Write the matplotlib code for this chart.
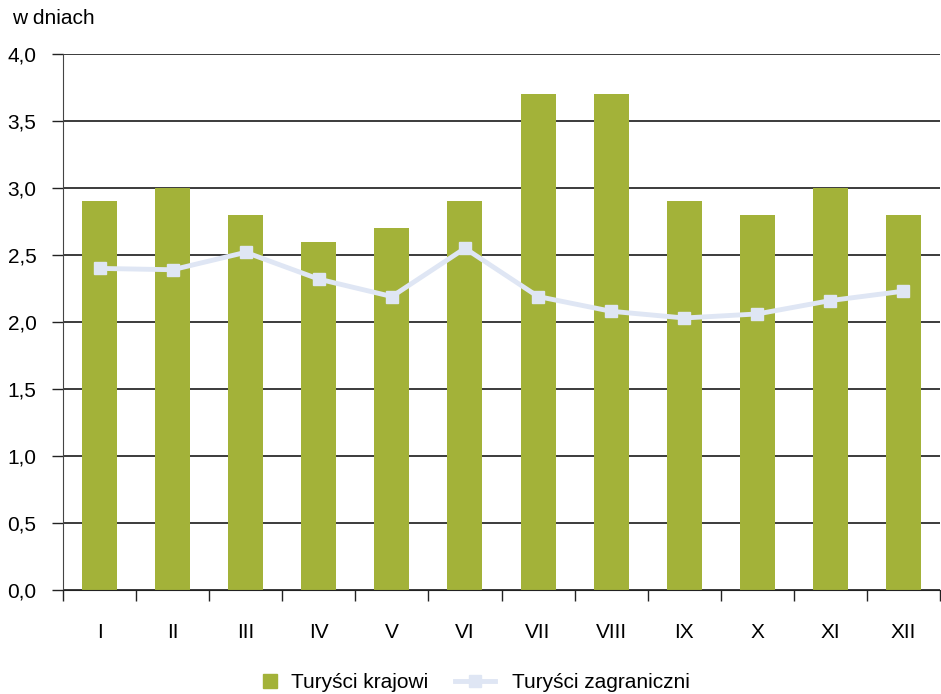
import numpy as np
import matplotlib.pyplot as plt
from matplotlib.lines import Line2D

plt.rcParams['font.family'] = ['Liberation Sans', 'DejaVu Sans']

# dane
miesiace = ['I', 'II', 'III', 'IV', 'V', 'VI', 'VII', 'VIII', 'IX', 'X', 'XI', 'XII']
krajowi = [2.9, 3.0, 2.8, 2.6, 2.7, 2.9, 3.7, 3.7, 2.9, 2.8, 3.0, 2.8]
zagraniczni = [2.40, 2.39, 2.52, 2.32, 2.19, 2.55, 2.19, 2.08, 2.03, 2.06, 2.16, 2.23]

kolor_slupka = '#a3b239'
kolor_linii = '#dfe6f4'

fig = plt.figure(figsize=(9.41, 6.94), dpi=100)
ax = fig.add_axes([63 / 941, 1 - 590 / 694, 877 / 941, 536 / 694])

x = np.arange(len(miesiace))
ax.bar(x, krajowi, width=0.48, color=kolor_slupka, zorder=2)
ax.plot(x, zagraniczni, color=kolor_linii, lw=3.5, marker='s', ms=9,
        markerfacecolor=kolor_linii, markeredgecolor=kolor_linii, zorder=3)

ax.set_xlim(-0.5, len(miesiace) - 0.5)
ax.set_ylim(0, 4.0)
ax.set_yticks(np.arange(0, 4.01, 0.5))
ax.set_yticklabels([f'{v:.1f}'.replace('.', ',') for v in np.arange(0, 4.01, 0.5)])
ax.yaxis.grid(True, color='#1a1a1a', lw=1.2, zorder=1)

# osie
ax.set_xticks(x)
ax.set_xticklabels(miesiace)
ax.tick_params(axis='x', length=0, pad=24, labelsize=15)
ax.set_xticks(np.arange(-0.5, len(miesiace)), minor=True)
ax.tick_params(axis='x', which='minor', length=8, width=1, color='#222222')
ax.tick_params(axis='y', length=8, width=1, color='#222222', labelsize=15, pad=11)
for s in ['top', 'right']:
    ax.spines[s].set_visible(False)
ax.spines['left'].set_color('#444444')
ax.spines['bottom'].set_color('#222222')

fig.text(12 / 941, 1 - 18 / 694, 'w dniach', fontsize=15, va='center', ha='left')

# legenda - dwie osobne, zeby odstepy byly jak w oryginale
fig.legend([Line2D([], [], ls='none', marker='s', ms=10, color=kolor_slupka)],
           ['Turyści krajowi'], loc='center left',
           bbox_to_anchor=(262 / 941, 1 - 683 / 694), frameon=False,
           fontsize=15, handlelength=0.8, handletextpad=0.58,
           borderpad=0, borderaxespad=0)
fig.legend([Line2D([], [], color=kolor_linii, lw=3.5, marker='s', ms=9)],
           ['Turyści zagraniczni'], loc='center left',
           bbox_to_anchor=(455 / 941, 1 - 683 / 694), frameon=False,
           fontsize=15, handlelength=1.92, handletextpad=0.82,
           borderpad=0, borderaxespad=0)

fig.savefig('out.png', dpi=100)
